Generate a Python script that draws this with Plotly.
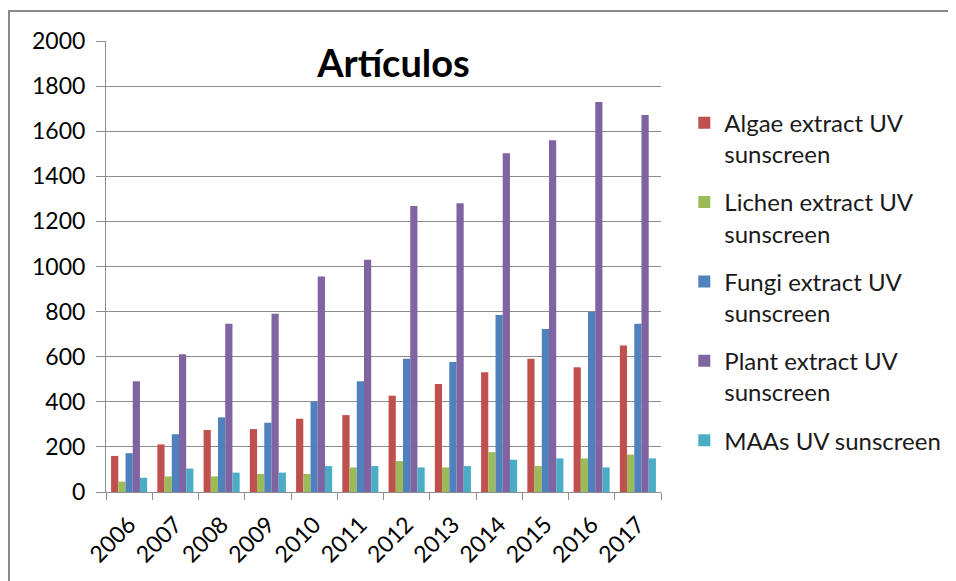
import plotly.graph_objects as go

years = ["2006", "2007", "2008", "2009", "2010", "2011",
         "2012", "2013", "2014", "2015", "2016", "2017"]

algae = [160, 211, 275, 279, 325, 341, 427, 479, 531, 591, 553, 650]
lichen = [46, 69, 69, 80, 80, 109, 137, 109, 177, 115, 149, 166]
fungi = [172, 256, 331, 307, 402, 491, 591, 576, 785, 723, 798, 746]
plant = [491, 611, 746, 791, 956, 1030, 1268, 1280, 1502, 1560, 1730, 1672]
maas = [63, 104, 86, 86, 115, 115, 109, 115, 143, 149, 109, 149]

series_names = ["Algae extract UV<br>sunscreen", "Lichen extract UV<br>sunscreen",
                "Fungi extract UV<br>sunscreen", "Plant extract UV<br>sunscreen",
                "MAAs UV sunscreen"]
series_values = [algae, lichen, fungi, plant, maas]
colors = ["#C0504D", "#9BBB59", "#4F81BD", "#8064A2", "#4BACC6"]

FONT = "Lato"
GRID = "#8C8C8C"
OFF = 8  # page body margin offset

fig = go.Figure()
for i, (name, vals, col) in enumerate(zip(series_names, series_values, colors)):
    fig.add_trace(go.Bar(
        x=years, y=vals, name=name, legendgroup=f"g{i}",
        marker=dict(color=col, line=dict(width=0)),
    ))

fig.update_layout(
    width=956, height=581,
    margin=dict(l=106 - OFF, r=956 - (106 - OFF) - 555, t=41 - OFF,
                b=581 - (41 - OFF) - 451, autoexpand=False),
    paper_bgcolor="white", plot_bgcolor="white",
    barmode="group", bargap=0.22, bargroupgap=0,
    font=dict(family=FONT, size=23, color="black"),
    title=dict(text="<b>Artículos</b>", font=dict(family=FONT, size=38, color="black"),
               xref="paper", x=0.518, xanchor="center",
               yref="container", y=1 - (64 - OFF) / 581, yanchor="middle"),
    legend=dict(x=1.042, xanchor="left", xref="paper", y=0.868, yanchor="top",
                font=dict(family=FONT, size=24, color="#1A1A1A"),
                valign="top", tracegroupgap=14, itemwidth=30,
                bgcolor="rgba(0,0,0,0)"),
    showlegend=True,
)

fig.update_yaxes(
    range=[0, 2000], dtick=200, showgrid=True, gridcolor=GRID, gridwidth=1,
    showline=True, linecolor=GRID, linewidth=1, automargin=False,
    ticks="outside", ticklen=9, tickcolor=GRID, ticklabelstandoff=6,
    tickfont=dict(family=FONT, size=23, color="black"), zeroline=False,
)
fig.update_xaxes(
    type="category", showline=True, linecolor=GRID, linewidth=1, automargin=False,
    ticks="outside", ticklen=7, tickcolor=GRID, tickson="boundaries",
    tickangle=-45, ticklabelstandoff=9,
    tickfont=dict(family=FONT, size=23, color="black"),
    showgrid=False,
)

# outer chart border
fig.add_shape(type="rect", xref="paper", yref="paper",
              x0=(9 - 106) / 555, x1=(975 - 106) / 555,
              y0=(492 - 600) / 451, y1=(492 - 11) / 451,
              line=dict(color="#8A8A8A", width=2), fillcolor="rgba(0,0,0,0)",
              layer="below")

fig.write_html("out.html")
